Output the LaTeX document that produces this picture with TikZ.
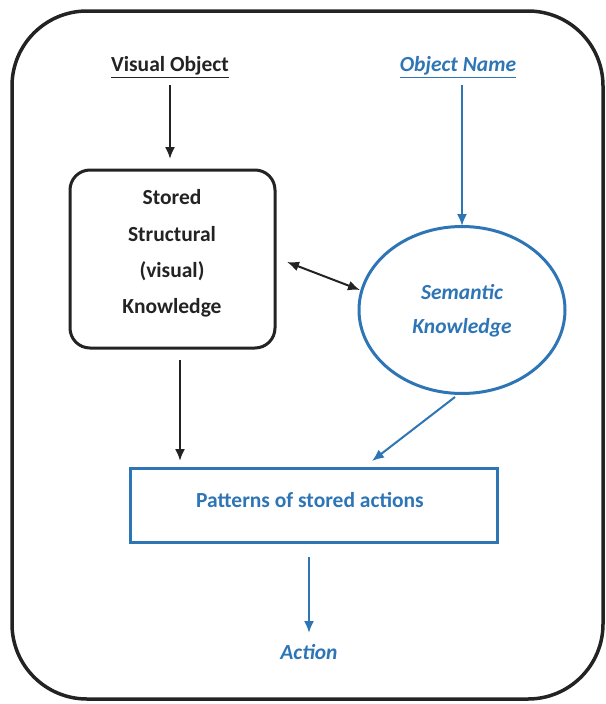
\documentclass[tikz,border=0pt]{standalone}
\usepackage{fontspec}
\setmainfont{Carlito}
\usetikzlibrary{arrows.meta,shapes.geometric}
\definecolor{myblue}{RGB}{46,117,182}
\definecolor{mydark}{RGB}{35,35,35}
\tikzset{
  txt/.style={font=\fontsize{21.5}{26}\selectfont\bfseries, text=mydark, inner sep=0pt},
  btxt/.style={font=\fontsize{21.5}{26}\selectfont\bfseries\itshape, text=myblue, inner sep=0pt},
  karrow/.style={draw=mydark, line width=2pt, -{Latex[length=12pt,width=10pt]}},
  barrow/.style={draw=myblue, line width=2pt, -{Latex[length=12pt,width=10pt]}},
}
\begin{document}
\begin{tikzpicture}[x=1pt,y=-1pt]
\useasboundingbox (0,0) rectangle (605,704);
% outer frame
\draw[mydark, line width=3.5pt, rounded corners=75pt] (12,11) rectangle (603,699);
% top labels
\node[txt] (vis) at (170,67) {\underline{Visual Object}};
\node[btxt] (name) at (458,67) {\underline{Object Name}};
% stored structural knowledge box
\node[draw=mydark, line width=3pt, rounded corners=20pt, minimum width=205pt, minimum height=178pt, inner sep=0pt] (ssk) at (172.5,259) {};
\node[txt] (l1) at (172,197) {Stored};
\node[txt] (l2) at (172,234) {Structural};
\node[txt] (l3) at (172,271) {(visual)};
\node[txt] (l4) at (172,308) {Knowledge};
% semantic ellipse
\node[draw=myblue, line width=3pt, ellipse, minimum width=206pt, minimum height=167pt, inner sep=0pt] (sem) at (462,310) {};
\node[btxt] (s1) at (462,292) {Semantic};
\node[btxt] (s2) at (462,328) {Knowledge};
% patterns box
\node[draw=myblue, line width=3pt, minimum width=367pt, minimum height=74pt, inner sep=0pt] (pat) at (313.5,505) {};
\node[font=\fontsize{21.5}{26}\selectfont\bfseries, text=myblue, inner sep=0pt] (ptxt) at (310,500) {Patterns of stored actions};
% action
\node[btxt] (act) at (309,652) {Action};
% coordinates for arrows
\coordinate (a1s) at (170,85);
\coordinate (a1e) at (170,159);
\coordinate (a2s) at (462,85);
\coordinate (a2e) at (462,226);
\coordinate (d1) at (287,262);
\coordinate (d2) at (360,290);
\coordinate (a3s) at (180,360);
\coordinate (a3e) at (180,461);
\coordinate (a4s) at (455,397);
\coordinate (a4e) at (372,461);
\coordinate (a5s) at (309,557);
\coordinate (a5e) at (309,633);
% arrows
\draw[karrow] (a1s) -- (a1e);
\draw[barrow] (a2s) -- (a2e);
\draw[karrow, {Latex[length=12pt,width=10pt]}-{Latex[length=12pt,width=10pt]}] (d1) -- (d2);
\draw[karrow] (a3s) -- (a3e);
\draw[barrow] (a4s) -- (a4e);
\draw[barrow] (a5s) -- (a5e);
\end{tikzpicture}
\end{document}
